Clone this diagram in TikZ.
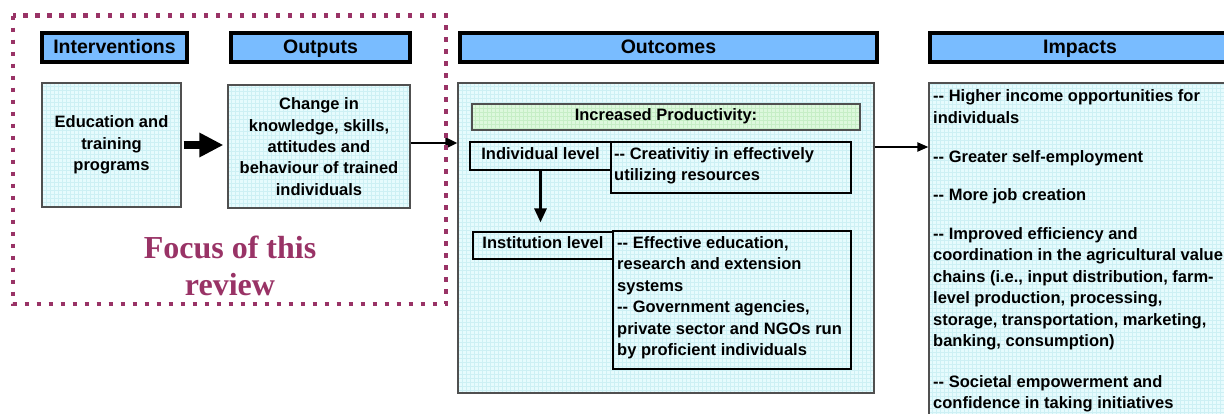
\documentclass[tikz,border=0pt]{standalone}
\usepackage{fontspec}
\newfontfamily\bodyfont{Liberation Sans}
\newfontfamily\focusfont{Liberation Serif}
\usetikzlibrary{arrows.meta,calc}
\definecolor{hdrblue}{HTML}{79BCFF}
\definecolor{cyanfill}{HTML}{E6FBFD}
\definecolor{cyangrid}{HTML}{CDF0F4}
\definecolor{greenfill}{HTML}{DDF8DD}
\definecolor{greengrid}{HTML}{C6EEC6}
\definecolor{focusred}{HTML}{993366}
\definecolor{boxgray}{HTML}{505050}
\tikzset{
  bodytxt/.style={font=\bodyfont\bfseries\fontsize{16.5}{21.4}\selectfont},
  hdr/.style={draw=black,line width=4pt,fill=hdrblue,inner sep=0pt,
    minimum height=29pt,text height=12pt,text depth=0pt,
    font=\bodyfont\bfseries\fontsize{19.5}{22}\selectfont},
  gridded/.style={path picture={\draw[#1,line width=0.45pt]
    (path picture bounding box.south west) grid[step=4pt]
    (path picture bounding box.north east);}},
  cbox/.style={bodytxt,draw=boxgray,line width=1.2pt,fill=cyanfill,
    gridded=cyangrid,inner sep=0pt,align=center},
  gbox/.style={bodytxt,draw=boxgray,line width=1.2pt,fill=greenfill,
    gridded=greengrid,inner sep=0pt,text height=12pt,text depth=6pt},
  lbox/.style={bodytxt,draw=black,line width=1.2pt,inner sep=0pt,
    text height=12pt,text depth=6pt},
  ltext/.style={bodytxt,inner sep=0pt,align=left,anchor=north west,yshift=14.98pt},
  bigarrow/.style={line width=8pt,-{Triangle[length=24pt,width=23pt]}},
  arr/.style={line width=2.4pt,-{Triangle[length=12pt,width=11pt]}},
  thinarr/.style={line width=2pt,-{Triangle[length=11pt,width=9pt]}},
  varr/.style={line width=3pt,-{Triangle[length=14pt,width=12pt]}},
  focusframe/.style={draw=focusred,line width=4.5pt,dash pattern=on 4.5pt off 7.5pt},
  focustxt/.style={text=focusred,align=center,anchor=north,inner sep=0pt,yshift=25.9pt,
    font=\focusfont\bfseries\fontsize{32}{37}\selectfont}
}
\begin{document}
\begin{tikzpicture}[x=1pt,y=-1pt]
\useasboundingbox (0,0) rectangle (1224,413);
\clip (0,0) rectangle (1224,413);
\fill[white] (0,0) rectangle (1224,413);

% headers
\node[hdr,minimum width=145pt] (hInt) at (114.5,47.5) {Interventions};
\node[hdr,minimum width=179pt] (hOut) at (320.5,47.5) {Outputs};
\node[hdr,minimum width=417pt] (hOutc) at (668.5,47.5) {Outcomes};
\node[hdr,minimum width=300pt] (hImp) at (1080,47.5) {Impacts};

% interventions / outputs
\node[cbox,minimum width=139pt,minimum height=124pt] (edu) at (111.5,145)
  {Education and\\training\\programs};
\node[cbox,minimum width=182pt,minimum height=123pt] (outp) at (319,146.5)
  {Change in\\knowledge, skills,\\attitudes and\\behaviour of trained\\individuals};

% outcomes
\node[cbox,minimum width=416pt,minimum height=310pt] (outc) at (666,238) {};
\node[gbox,minimum width=388pt,minimum height=26pt] (prod) at (666,117) {Increased Productivity:};
\node[lbox,minimum width=240pt,minimum height=51pt] (creat) at (731,167.5) {};
\node[lbox,minimum width=141pt,minimum height=28pt] (indiv) at (540.5,156) {Individual level};
\node[ltext] (creatT) at (614,159) {\strut-{}- Creativitiy in effectively\\utilizing resources};
\node[lbox,minimum width=238pt,minimum height=138pt] (eff) at (732,300) {};
\node[lbox,minimum width=140pt,minimum height=27pt] (inst) at (543,245.5) {Institution level};
\node[ltext] (effT) at (617,248.3) {\strut-{}- Effective education,\\research and extension\\systems\\-{}- Government agencies,\\private sector and NGOs run\\by proficient individuals};

% impacts
\node[cbox,minimum width=311pt,minimum height=347pt] (imp) at (1084.5,256.5) {};
\node[ltext] (imp1) at (933,101.5) {\strut-{}- Higher income opportunities for\\individuals};
\node[ltext] (imp2) at (933,162.7) {\strut-{}- Greater self-employment};
\node[ltext] (imp3) at (933,200) {\strut-{}- More job creation};
\node[ltext] (imp4) at (933,239.3) {\strut-{}- Improved efficiency and\\coordination in the agricultural value\\chains (i.e., input distribution, farm-\\level production, processing,\\storage, transportation, marketing,\\banking, consumption)};
\node[ltext] (imp5) at (933,387.3) {\strut-{}- Societal empowerment and\\confidence in taking initiatives};

% connectors
\draw[bigarrow,shorten <=2pt,shorten >=4pt] (edu.east) -- (edu.east -| outp.west);
\draw[arr] ([yshift=3.5pt]outp.east) -- ([yshift=3.5pt]outp.east -| outc.west);
\draw[varr,shorten >=9pt] (indiv.south) -- (indiv.south |- inst.north);
\coordinate (impy) at (0,147);
\draw[thinarr] (outc.east |- impy) -- (imp.west |- impy);

% focus frame
\draw[focusframe] (13,15.5) rectangle (446,304);
\node[focustxt] (focus) at (230,258) {\strut Focus of this\\review};
\end{tikzpicture}
\end{document}
